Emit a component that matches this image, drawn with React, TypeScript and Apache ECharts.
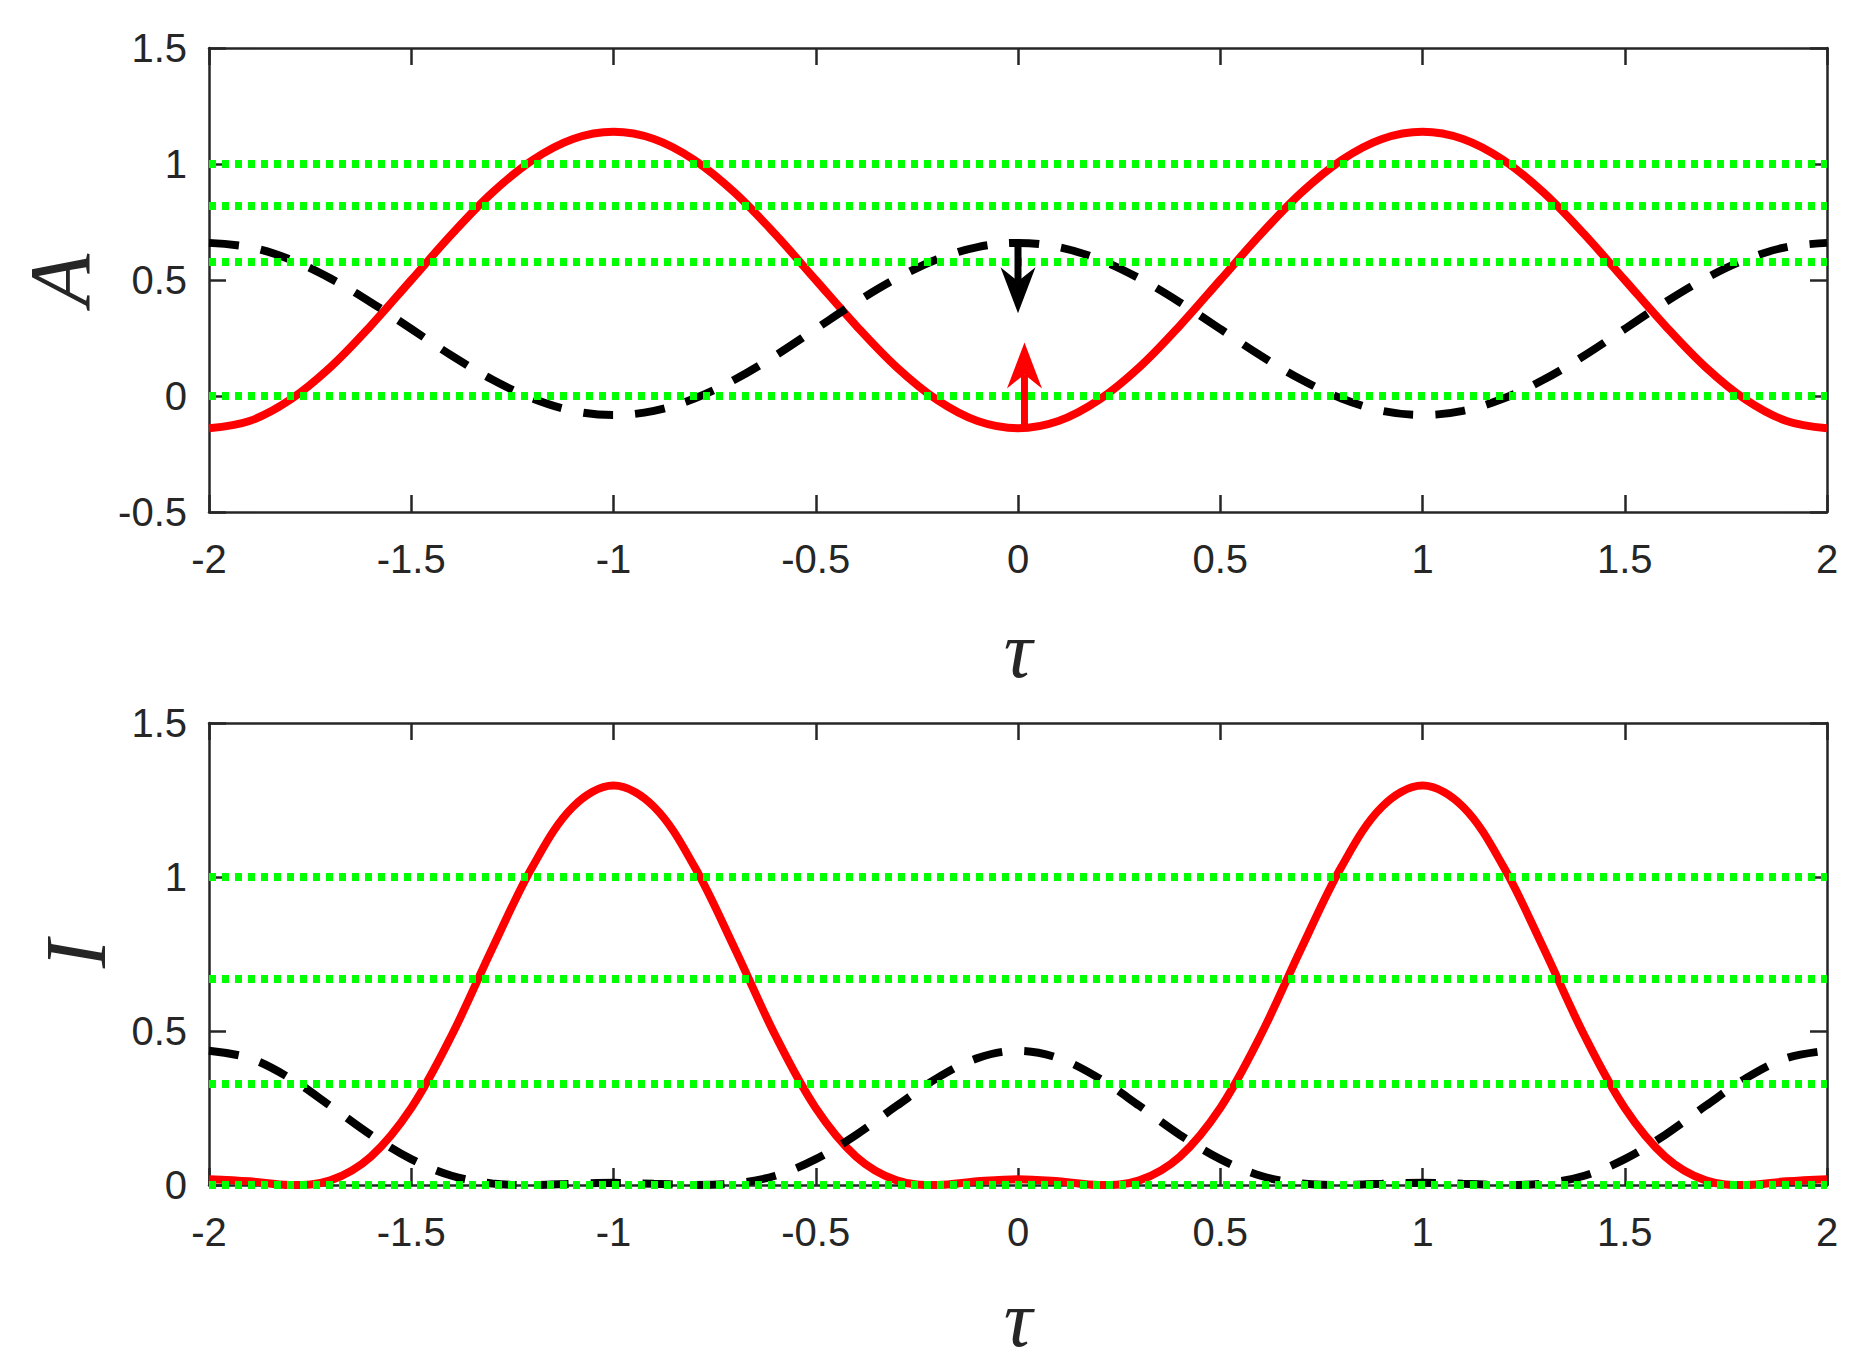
import React, { useEffect, useRef } from "react";
import * as echarts from "echarts";

// tau sample points (read every 0.1)
const tau = [
  -2, -1.9, -1.8, -1.7, -1.6, -1.5, -1.4, -1.3, -1.2, -1.1, -1,
  -0.9, -0.8, -0.7, -0.6, -0.5, -0.4, -0.3, -0.2, -0.1, 0,
  0.1, 0.2, 0.3, 0.4, 0.5, 0.6, 0.7, 0.8, 0.9, 1,
  1.1, 1.2, 1.3, 1.4, 1.5, 1.6, 1.7, 1.8, 1.9, 2,
];

// Top panel: A (red solid, black dashed)
const aRed = [
  -0.139, -0.108, -0.017, 0.124, 0.303, 0.5, 0.697, 0.876, 1.017, 1.108, 1.139,
  1.108, 1.017, 0.876, 0.697, 0.5, 0.303, 0.124, -0.017, -0.108, -0.139,
  -0.108, -0.017, 0.124, 0.303, 0.5, 0.697, 0.876, 1.017, 1.108, 1.139,
  1.108, 1.017, 0.876, 0.697, 0.5, 0.303, 0.124, -0.017, -0.108, -0.139,
];
const aBlack = [
  0.66, 0.642, 0.589, 0.507, 0.404, 0.289, 0.174, 0.071, -0.011, -0.064, -0.082,
  -0.064, -0.011, 0.071, 0.174, 0.289, 0.404, 0.507, 0.589, 0.642, 0.66,
  0.642, 0.589, 0.507, 0.404, 0.289, 0.174, 0.071, -0.011, -0.064, -0.082,
  -0.064, -0.011, 0.071, 0.174, 0.289, 0.404, 0.507, 0.589, 0.642, 0.66,
];

// Bottom panel: I (red solid, black dashed)
const iRed = [
  0.019, 0.012, 0.0, 0.015, 0.092, 0.25, 0.486, 0.767, 1.034, 1.228, 1.297,
  1.228, 1.034, 0.767, 0.486, 0.25, 0.092, 0.015, 0.0, 0.012, 0.019,
  0.012, 0.0, 0.015, 0.092, 0.25, 0.486, 0.767, 1.034, 1.228, 1.297,
  1.228, 1.034, 0.767, 0.486, 0.25, 0.092, 0.015, 0.0, 0.012, 0.019,
];
const iBlack = [
  0.436, 0.412, 0.347, 0.257, 0.163, 0.084, 0.03, 0.005, 0.0, 0.004, 0.007,
  0.004, 0.0, 0.005, 0.03, 0.084, 0.163, 0.257, 0.347, 0.412, 0.436,
  0.412, 0.347, 0.257, 0.163, 0.084, 0.03, 0.005, 0.0, 0.004, 0.007,
  0.004, 0.0, 0.005, 0.03, 0.084, 0.163, 0.257, 0.347, 0.412, 0.436,
];

// Green dotted reference levels
const aLevels = [1, 0.8165, 0.5774, 0];
const iLevels = [1, 0.6667, 0.3333, 0];

// Arrows in the top panel (x, from, to)
const arrowX = [0, 0.016];
const arrowFrom = [0.66, -0.14];
const arrowTo = [0.357, 0.231];
const arrowColors = ["#000000", "#ff0000"];

const panelNames = ["A", "I"];
const panelYMin = [-0.5, 0];

const AXIS_COLOR = "#262626";
const TICK_FONT = "Liberation Sans";
const NAME_FONT = "Liberation Serif";

export default function App() {
  const ref = useRef<HTMLDivElement>(null);

  useEffect(() => {
    if (!ref.current) return;
    const chart = echarts.init(ref.current, undefined, { renderer: "svg" });

    const grids = [
      { left: 209, top: 48, width: 1618, height: 464 },
      { left: 209, top: 723, width: 1618, height: 462 },
    ];
    const yNameGaps = [106, 90];
    const xNameGaps = [138, 134];

    const axisLine = { show: true, onZero: false, lineStyle: { color: AXIS_COLOR, width: 2.5 } };
    const axisTick = { show: true, inside: true, length: 17, lineStyle: { color: AXIS_COLOR, width: 2.5 } };
    const label = {
      show: true,
      color: AXIS_COLOR,
      fontFamily: TICK_FONT,
      fontSize: 40,
    };
    const nameStyle = {
      fontFamily: NAME_FONT,
      fontStyle: "italic",
      fontSize: 86,
      color: AXIS_COLOR,
    };

    const xAxes: any[] = [];
    const yAxes: any[] = [];
    [0, 1].forEach((g) => {
      xAxes.push({
        type: "value",
        gridIndex: g,
        min: -2,
        max: 2,
        interval: 0.5,
        position: "bottom",
        axisLine,
        axisTick,
        splitLine: { show: false },
        axisLabel: { ...label, margin: 27 },
        name: "τ",
        nameLocation: "middle",
        nameGap: xNameGaps[g],
        nameTextStyle: { ...nameStyle, fontSize: 80, verticalAlign: "middle", lineHeight: 60 },
      });
      xAxes.push({
        type: "value",
        gridIndex: g,
        min: -2,
        max: 2,
        interval: 0.5,
        position: "top",
        axisLine,
        axisTick,
        splitLine: { show: false },
        axisLabel: { show: false },
      });
      yAxes.push({
        type: "value",
        gridIndex: g,
        min: panelYMin[g],
        max: 1.5,
        interval: 0.5,
        position: "left",
        axisLine,
        axisTick,
        splitLine: { show: false },
        axisLabel: { ...label, margin: 22 },
        name: panelNames[g],
        nameLocation: "middle",
        nameGap: yNameGaps[g],
        nameRotate: 90,
        nameTextStyle: nameStyle,
      });
      yAxes.push({
        type: "value",
        gridIndex: g,
        min: panelYMin[g],
        max: 1.5,
        interval: 0.5,
        position: "right",
        axisLine,
        axisTick,
        splitLine: { show: false },
        axisLabel: { show: false },
      });
    });

    const pair = (ys: number[]) => tau.map((t, i) => [t, ys[i]]);

    const curve = (g: number, ys: number[], color: string, dashed: boolean, z: number) => ({
      type: "line",
      xAxisIndex: g * 2,
      yAxisIndex: g * 2,
      data: pair(ys),
      smooth: 0.35,
      showSymbol: false,
      symbol: "none",
      z,
      lineStyle: {
        color,
        width: 8,
        type: dashed ? [30, 22] : "solid",
        cap: "butt",
      },
    });

    const levels = (g: number, vals: number[]) => ({
      type: "line",
      xAxisIndex: g * 2,
      yAxisIndex: g * 2,
      data: [],
      z: 4,
      markLine: {
        silent: true,
        symbol: ["none", "none"],
        label: { show: false },
        animation: false,
        lineStyle: { color: "#00ff00", width: 8, type: [7, 6], cap: "butt" },
        data: vals.map((v) => ({ yAxis: v })),
      },
    });

    const arrows = {
      type: "custom",
      xAxisIndex: 0,
      yAxisIndex: 0,
      z: 6,
      data: arrowX.map((x, i) => [x, arrowFrom[i], arrowTo[i]]),
      encode: { x: 0, y: [1, 2] },
      renderItem: (params: any, api: any) => {
        const i = params.dataIndex;
        const color = arrowColors[i];
        const p0 = api.coord([api.value(0), api.value(1)]);
        const p1 = api.coord([api.value(0), api.value(2)]);
        const dx = p1[0] - p0[0];
        const dy = p1[1] - p0[1];
        const len = Math.sqrt(dx * dx + dy * dy) || 1;
        const ux = dx / len;
        const uy = dy / len;
        const nx = -uy;
        const ny = ux;
        const headLen = 46;
        const headW = 35;
        const notchD = 32;
        const back = [p1[0] - ux * headLen, p1[1] - uy * headLen];
        const w1 = [back[0] + (nx * headW) / 2, back[1] + (ny * headW) / 2];
        const w2 = [back[0] - (nx * headW) / 2, back[1] - (ny * headW) / 2];
        const notch = [p1[0] - ux * notchD, p1[1] - uy * notchD];
        return {
          type: "group",
          children: [
            {
              type: "line",
              shape: { x1: p0[0], y1: p0[1], x2: notch[0], y2: notch[1] },
              style: { stroke: color, lineWidth: 7 },
            },
            {
              type: "polygon",
              shape: { points: [p1, w1, notch, w2] },
              style: { fill: color },
            },
          ],
        };
      },
    };

    chart.setOption({
      animation: false,
      backgroundColor: "#ffffff",
      grid: grids,
      xAxis: xAxes,
      yAxis: yAxes,
      series: [
        curve(0, aRed, "#ff0000", false, 2),
        curve(0, aBlack, "#000000", true, 3),
        levels(0, aLevels),
        arrows,
        curve(1, iRed, "#ff0000", false, 2),
        curve(1, iBlack, "#000000", true, 3),
        levels(1, iLevels),
      ],
    });

    return () => chart.dispose();
  }, []);

  return (
    <div
      ref={ref}
      style={{ position: "absolute", left: 0, top: 0, width: 1866, height: 1362, background: "#fff" }}
    />
  );
}
